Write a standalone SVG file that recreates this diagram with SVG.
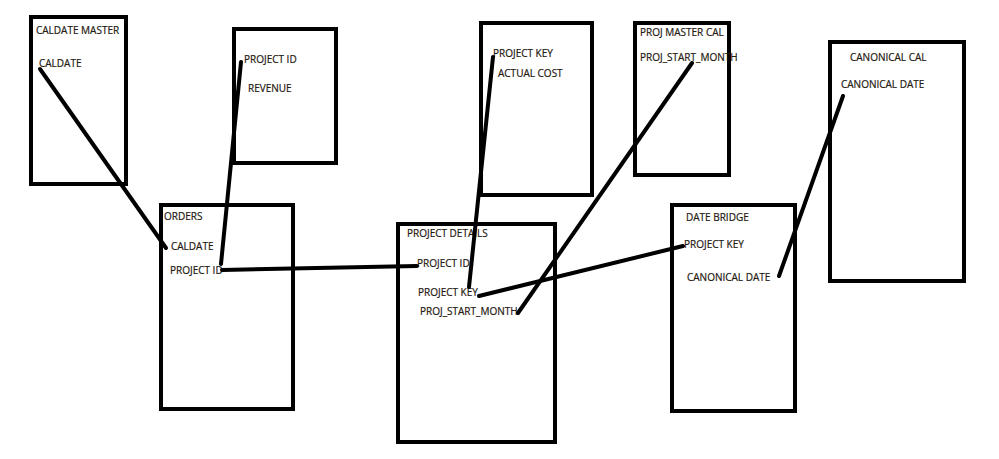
<svg xmlns="http://www.w3.org/2000/svg" width="999" height="459" viewBox="0 0 999 459">
<style>
.box{fill:none;stroke:#000;stroke-width:4}
.t{font-family:"Open Sans","Liberation Sans",sans-serif;font-size:10px;fill:#111;stroke:#3a2a10;stroke-width:0.2}
.c{stroke:#000;stroke-width:4;stroke-linecap:round;fill:none}
</style>
<rect width="999" height="459" fill="#fff"/>
<g id="caldate-master">
<rect class="box" x="31" y="17" width="95" height="167"/>
<text class="t" x="36" y="34">CALDATE MASTER</text>
<text class="t" x="39" y="67">CALDATE</text>
</g>
<g id="revenue">
<rect class="box" x="234" y="29" width="102" height="134"/>
<text class="t" x="244" y="63">PROJECT ID</text>
<text class="t" x="248" y="92">REVENUE</text>
</g>
<g id="orders">
<rect class="box" x="161" y="205" width="132" height="204"/>
<text class="t" x="164" y="220">ORDERS</text>
<text class="t" x="171" y="250">CALDATE</text>
<text class="t" x="170" y="274">PROJECT ID</text>
</g>
<g id="project-details">
<rect class="box" x="398" y="224" width="157" height="218"/>
<text class="t" x="407" y="237">PROJECT DETAILS</text>
<text class="t" x="417" y="267">PROJECT ID</text>
<text class="t" x="418" y="296">PROJECT KEY</text>
<text class="t" x="420" y="315">PROJ_START_MONTH</text>
</g>
<g id="actual-cost">
<rect class="box" x="481" y="23" width="111" height="172"/>
<text class="t" x="493" y="57">PROJECT KEY</text>
<text class="t" x="498" y="77">ACTUAL COST</text>
</g>
<g id="proj-master-cal">
<rect class="box" x="635" y="23" width="94" height="152"/>
<text class="t" x="640" y="36">PROJ MASTER CAL</text>
<text class="t" x="640" y="61">PROJ_START_MONTH</text>
</g>
<g id="date-bridge">
<rect class="box" x="672" y="205" width="123" height="206"/>
<text class="t" x="686" y="221">DATE BRIDGE</text>
<text class="t" x="684" y="248">PROJECT KEY</text>
<text class="t" x="687" y="281">CANONICAL DATE</text>
</g>
<g id="canonical-cal">
<rect class="box" x="830" y="42" width="134" height="239"/>
<text class="t" x="850" y="61">CANONICAL CAL</text>
<text class="t" x="841" y="88">CANONICAL DATE</text>
</g>
<g id="connectors">
<line class="c" x1="40" y1="69" x2="166" y2="248"/>
<line class="c" x1="241" y1="62" x2="221" y2="264"/>
<line class="c" x1="222" y1="270" x2="417" y2="266"/>
<line class="c" x1="493" y1="57" x2="469" y2="287"/>
<line class="c" x1="692" y1="63" x2="518" y2="313"/>
<line class="c" x1="479" y1="296" x2="683" y2="246"/>
<line class="c" x1="843" y1="96" x2="779" y2="276"/>
</g>
</svg>
